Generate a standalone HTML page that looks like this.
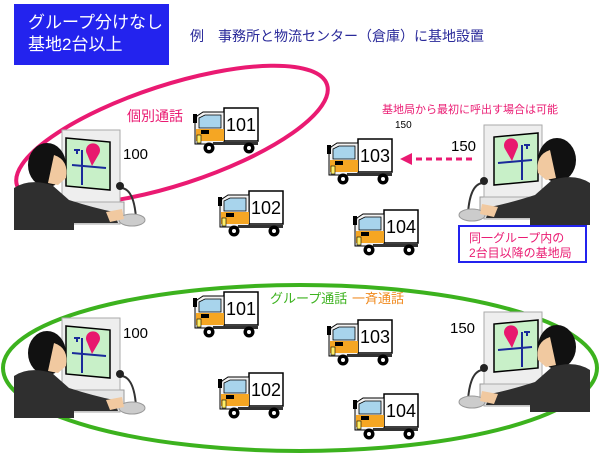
<!DOCTYPE html>
<html><head><meta charset="utf-8"><style>
body{margin:0;background:#fff;}
svg{display:block;font-family:"Liberation Sans","Noto Sans CJK JP",sans-serif;}
</style></head><body>
<svg width="602" height="457" viewBox="0 0 602 457" xmlns="http://www.w3.org/2000/svg">
<defs>
<g id="truck">
  <rect x="31" y="0" width="34" height="33" fill="#fff" stroke="#000" stroke-width="1.5"/>
  <path d="M4 8 L10 4 L31 4 L31 36 L2 36 L2 14 Z" fill="#f2f2f2" stroke="#000" stroke-width="1"/>
  <path d="M6 10 L12 7 L28 7 L28 20 L6 20 Z" fill="#a8d4ec" stroke="#000" stroke-width="0.8"/>
  <rect x="3" y="21" width="28" height="12" fill="#f5a623"/>
  <rect x="8" y="22" width="8" height="4" fill="#000"/>
  <rect x="0" y="6" width="4" height="9" fill="#000"/>
  <rect x="4" y="27" width="4" height="8" fill="#ffee66" stroke="#000" stroke-width="0.6"/>
  <rect x="20" y="34" width="45" height="3" fill="#333"/>
  <circle cx="16" cy="40" r="5.5" fill="#000"/><circle cx="16" cy="40" r="2" fill="#fff"/>
  <circle cx="56" cy="40" r="5.5" fill="#000"/><circle cx="56" cy="40" r="2" fill="#fff"/>
</g>
<g id="op">
  <rect x="54" y="72" width="56" height="20" fill="#e6e6e6" stroke="#999"/>
  <rect x="48" y="0" width="58" height="72" fill="#eeeeee" stroke="#aaa"/>
  <path d="M52 8 L96 12 L96 60 L52 56 Z" fill="#c8f0c8" stroke="#000" stroke-width="1.5"/>
  <path d="M58 35 L92 38 M68 20 L68 55 M60 20 L66 20 M63 20 L63 24" stroke="#1a2a9a" stroke-width="2" fill="none"/>
  <path d="M78 36 L73 24 A7 7 0 1 1 85 24 Z" fill="#e8186e"/>
  <rect x="56" y="86" width="50" height="8" fill="#ddd" stroke="#aaa"/>
  <path d="M108 58 Q120 60 122 88" stroke="#333" stroke-width="2" fill="none"/>
  <circle cx="106" cy="56" r="4" fill="#222"/>
  <ellipse cx="118" cy="90" rx="13" ry="6" fill="#ccc" stroke="#999"/>
  <ellipse cx="33" cy="35" rx="19" ry="22" fill="#111"/>
  <path d="M40 25 Q55 30 52 48 L44 55 L34 53 Z" fill="#f1c9a0"/>
  <path d="M0 58 Q15 48 38 55 L55 70 Q80 78 100 82 L104 93 L60 93 L60 100 L0 100 Z" fill="#2f2f2f"/>
  <path d="M92 82 L108 79 L110 89 L96 92 Z" fill="#f1c9a0"/>
</g>
</defs>

<rect x="14" y="4" width="155" height="61" fill="#2323ee"/>
<text x="28" y="28" font-size="17" fill="#fff">グループ分けなし</text>
<text x="28" y="50" font-size="17" fill="#fff">基地2台以上</text>
<text x="190" y="41" font-size="14" fill="#2a2a9a">例　事務所と物流センター（倉庫）に基地設置</text>

<ellipse cx="172" cy="135" rx="163" ry="50" transform="rotate(-18 172 135)" fill="none" stroke="#ea1a72" stroke-width="4"/>
<text x="127" y="121" font-size="14" fill="#ea1a72">個別通話</text>

<ellipse cx="300" cy="368" rx="297" ry="83" fill="none" stroke="#3cb21e" stroke-width="4"/>

<use href="#op" transform="translate(14,130)"/>
<use href="#op" transform="translate(590,125) scale(-1,1)"/>
<use href="#op" transform="translate(14,318)"/>
<use href="#op" transform="translate(590,312) scale(-1,1)"/>

<use href="#truck" x="193" y="108"/>
<use href="#truck" x="218" y="191"/>
<use href="#truck" x="327" y="139"/>
<use href="#truck" x="353" y="210"/>
<use href="#truck" x="193" y="292"/>
<use href="#truck" x="218" y="373"/>
<use href="#truck" x="327" y="320"/>
<use href="#truck" x="353" y="394"/>

<g font-size="18" fill="#000" text-anchor="middle">
<text x="241" y="131">101</text><text x="266" y="214">102</text>
<text x="375" y="162">103</text><text x="401" y="233">104</text>
<text x="241" y="315">101</text><text x="266" y="396">102</text>
<text x="375" y="343">103</text><text x="401" y="417">104</text>
</g>

<text x="123" y="159" font-size="15">100</text>
<text x="123" y="338" font-size="15">100</text>
<text x="451" y="151" font-size="15">150</text>
<text x="450" y="333" font-size="15">150</text>
<text x="395" y="128" font-size="10">150</text>
<text x="382" y="113" font-size="11" fill="#ea1a72">基地局から最初に呼出す場合は可能</text>

<line x1="472" y1="159" x2="410" y2="159" stroke="#ea1a72" stroke-width="3" stroke-dasharray="6,4"/>
<path d="M400 159 L412 153 L412 165 Z" fill="#ea1a72"/>

<rect x="459" y="226" width="127" height="36" fill="#fff" stroke="#2323ee" stroke-width="2"/>
<text x="469" y="242" font-size="12" fill="#ea1a72">同一グループ内の</text>
<text x="469" y="257" font-size="12" fill="#ea1a72">2台目以降の基地局</text>

<text x="270" y="303" font-size="13" fill="#3cb21e">グループ通話</text>
<text x="352" y="303" font-size="13" fill="#f08a1e">一斉通話</text>
</svg>
</body></html>
